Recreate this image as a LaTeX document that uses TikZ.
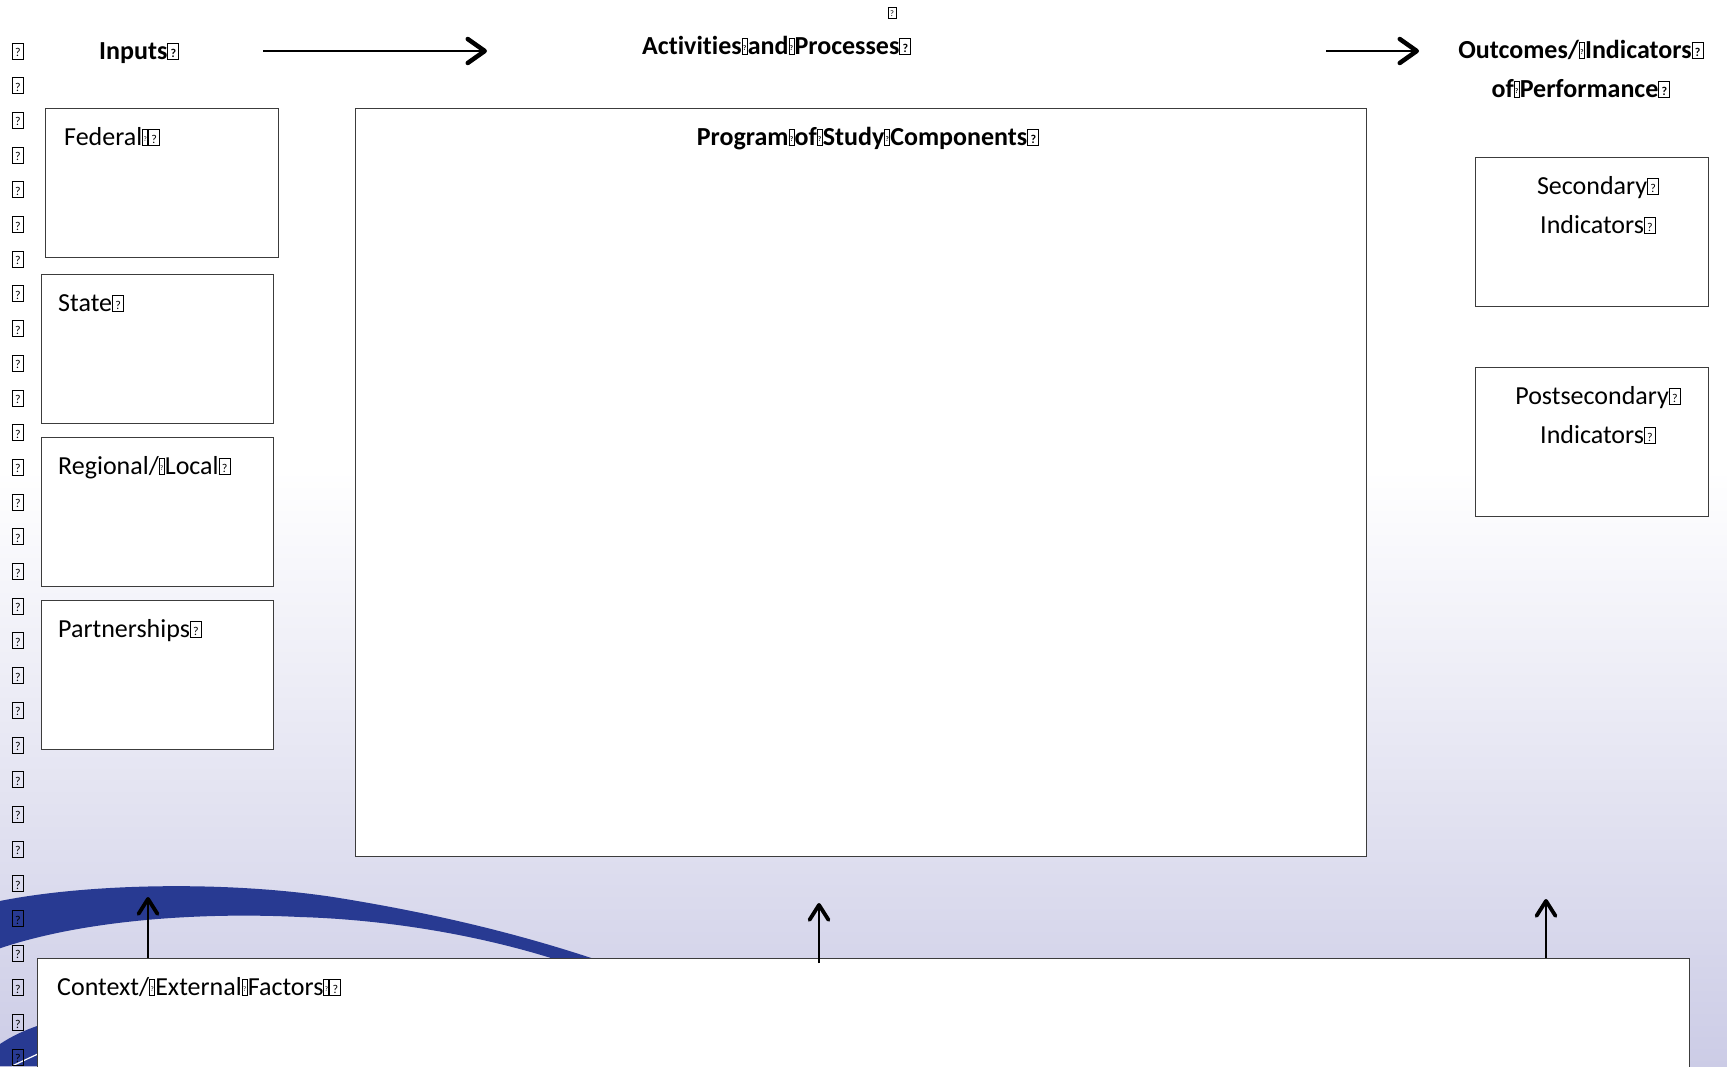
\documentclass[tikz,border=0pt]{standalone}
\usepackage{fontspec}
\setmainfont{Carlito}[Ligatures=NoCommon]
\usetikzlibrary{arrows.meta,calc,positioning}

\definecolor{swoosh}{RGB}{40,58,146}
\definecolor{lavender}{RGB}{204,204,230}
\definecolor{frame}{RGB}{60,60,60}

% the little boxed question marks of the original
\newcommand{\qb}{{\setlength{\fboxsep}{0pt}\setlength{\fboxrule}{1pt}\fbox{\makebox[10pt]{\rule{0pt}{15pt}\fontsize{12}{12}\selectfont\raisebox{2pt}{?}}}}}
\newcommand{\qs}{{\setlength{\fboxsep}{0pt}\setlength{\fboxrule}{1pt}\fbox{\makebox[4pt]{\rule{0pt}{15pt}\fontsize{7}{7}\selectfont\raisebox{4pt}{?}}}}}

\tikzset{
  box/.style={draw=frame, line width=1.2pt, fill=white, inner sep=0pt, anchor=north west},
  txt/.style={inner sep=0pt, font=\fontsize{26}{39}\selectfont},
  head/.style={inner sep=0pt, font=\fontsize{26}{39}\selectfont\bfseries},
  flow/.style={line width=2.8pt, -{Straight Barb[length=17pt,width=24pt,line width=4.5pt,round]}},
  rise/.style={line width=2.2pt, -{Straight Barb[length=15pt,width=19pt,line width=3.8pt,round]}}
}

\begin{document}
\begin{tikzpicture}[x=1pt, y=-1pt]
    \clip (0,0) rectangle (1727,1066);
    \fill[white] (0,0) rectangle (1727,1066);
    \shade[top color=white, bottom color=lavender] (0,470) rectangle (1727,1066);

    % swoosh
    \fill[swoosh] (-5,902) .. controls (80,884) and (220,880) .. (333,897)
        .. controls (440,914) and (540,938) .. (640,975) -- (600,975)
        .. controls (510,940) and (400,920) .. (300,917)
        .. controls (200,912) and (80,920) .. (-5,950) -- cycle;
    \fill[swoosh] (0,1044) .. controls (12,1036) and (25,1030) .. (40,1025) -- (40,1066) -- (0,1066) -- cycle;
    \draw[white, line width=1.2pt] (12,1066) -- (40,1053);

    \foreach \i in {0,...,29}
        \node[inner sep=0pt] (q\i) at (18, 51+34.7*\i) {\qb};

    % inputs
    \node[box, minimum width=233pt, minimum height=149pt] (Federal) at (45,108) {};
    \node[box, minimum width=232pt, minimum height=149pt] (State) at (41,274) {};
    \node[box, minimum width=232pt, minimum height=149pt] (Regional) at (41,437) {};
    \node[box, minimum width=232pt, minimum height=149pt] (Partners) at (41,600) {};
    \node[txt, anchor=base west] (FederalText) at ($(Federal.north west)+(19,37)$) {Federal\qs\qb};
    \node[txt, anchor=base west] (StateText) at ($(State.north west)+(17,37)$) {State\qb};
    \node[txt, anchor=base west] (RegionalText) at ($(Regional.north west)+(17,37)$) {Regional/\qs Local\qb};
    \node[txt, anchor=base west] (PartnersText) at ($(Partners.north west)+(17,37)$) {Partnerships\qb};

    % activities
    \node[box, minimum width=1011pt, minimum height=748pt] (Program) at (355,108) {};
    \node[head, anchor=base] (ProgramText) at ($(Program.north)+(7,37)$) {Program\qs of\qs Study\qs Components\qb};

    % outcomes
    \node[box, minimum width=233pt, minimum height=149pt] (Secondary) at (1475,157) {};
    \node[box, minimum width=233pt, minimum height=149pt] (Postsec) at (1475,367) {};
    \node[txt, anchor=base, align=center] (SecondaryText) at ($(Secondary.north)+(6,76)$) {Secondary\qb\\Indicators\qb};
    \node[txt, anchor=base, align=center] (PostsecText) at ($(Postsec.north)+(6,76)$) {Postsecondary\qb\\Indicators\qb};

    % context
    \node[box, minimum width=1652pt, minimum height=200pt] (Context) at (37,958) {};
    \node[txt, anchor=base west] (ContextText) at ($(Context.north west)+(20,37)$) {Context/\qs External\qs Factors\qs\qb};

    % headings
    \node[head, anchor=base west] (Inputs) at (99,59) {Inputs\qb};
    \node[head, anchor=base west] (Activities) at (642,54) {Activities\qs and\qs Processes\qb};
    \node[head, anchor=base, align=center] (Outcomes) at (1581,97) {Outcomes/\qs Indicators\qb\\of\qs Performance\qb};
    \node[inner sep=0pt] (stray) at (892,13) {\scalebox{0.7}{\qb}};

    \coordinate (InFrom) at (263,51);
    \coordinate (InTo) at (487,51);
    \coordinate (OutFrom) at (1326,51);
    \coordinate (OutTo) at (1419,51);
    \draw[flow] (InFrom) -- (InTo);
    \draw[flow] (OutFrom) -- (OutTo);

    \coordinate (UpA) at (148,897);
    \coordinate (UpB) at (819,903);
    \coordinate (UpC) at (1546,899);
    \draw[rise] (Context.north -| UpA) -- (UpA);
    \draw[rise] ($(Context.north -| UpB)+(0,5)$) -- (UpB);
    \draw[rise] (Context.north -| UpC) -- (UpC);
\end{tikzpicture}
\end{document}
